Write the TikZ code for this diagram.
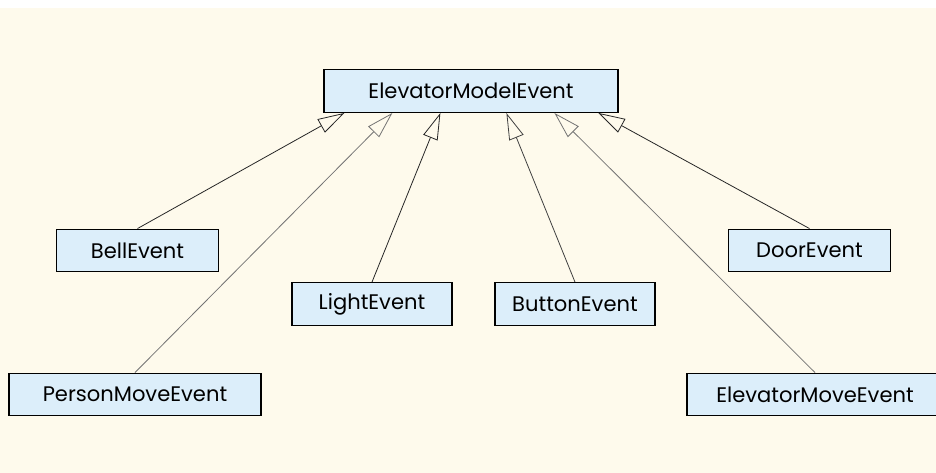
\documentclass[tikz,border=0pt]{standalone}
\usepackage{fontspec}
\setsansfont{Poppins}
\usepackage{tikz}
\usetikzlibrary{arrows.meta,positioning,calc}
\definecolor{paper}{HTML}{FEFAEC}
\definecolor{classfill}{HTML}{DCEEFA}
\tikzset{
  classbox/.style={draw=black,fill=classfill,line width=0.9pt,align=center,
                   minimum height=32pt,inner sep=0pt,
                   font=\sffamily\fontsize{15.8}{18}\selectfont},
  inherit/.style={-{Triangle[open,length=20pt,width=11.5pt]},line width=0.6pt},
}

\begin{document}
\begin{tikzpicture}[x=0.75pt,y=-0.75pt]
\useasboundingbox (0,0) rectangle (936,473);
\clip (0,0) rectangle (936,473);
\fill[paper] (0,8) rectangle (936,473);

% --- superclass ---
\node[classbox, minimum width=220.5pt] (model) at (471,91) {ElevatorModelEvent};

% --- subclasses ---
\node[classbox, minimum width=121pt] (bell)   at (137.5,250.5) {BellEvent};
\node[classbox, minimum width=121pt] (door)   at (809.5,250.5) {DoorEvent};
\node[classbox, minimum width=120pt] (light)  at (372,304)     {LightEvent};
\node[classbox, minimum width=120pt] (button) at (575,304)     {ButtonEvent};
\node[classbox, minimum width=189pt] (person) at (135,394.5)   {PersonMoveEvent};
\node[classbox, minimum width=192pt] (move)   at (815,394.5)   {ElevatorMoveEvent};

% --- generalisation arrows onto the bottom edge of the superclass ---
\foreach \sub/\off/\shade in {bell/21/black!85, person/69/black!55, light/117/black!85,
                              button/183/black!75, move/231/black!55, door/275/black!85}
  \draw[inherit, \shade] (\sub.north) -- ($(model.south west)+(\off,0)$);

\end{tikzpicture}
\end{document}
